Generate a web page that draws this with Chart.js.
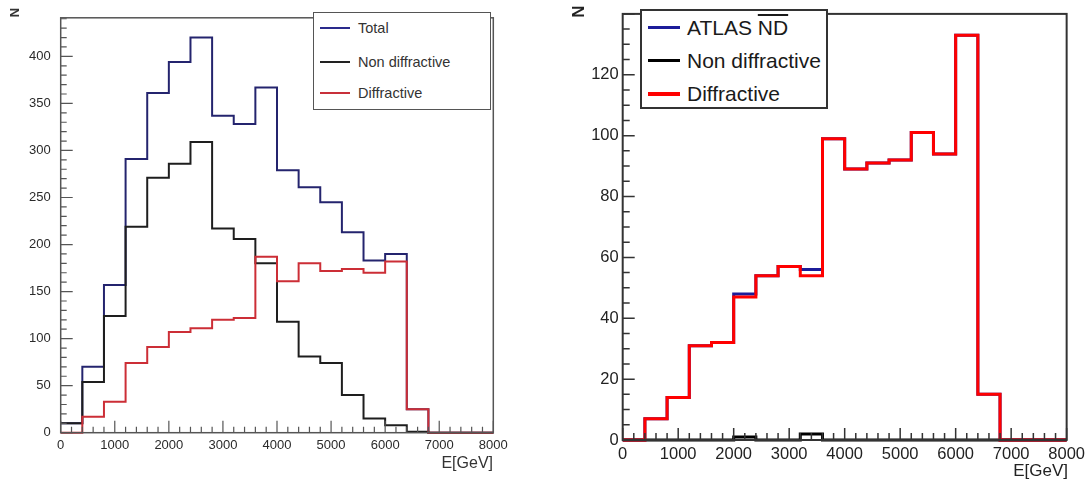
<!DOCTYPE html>
<html>
<head>
<meta charset="utf-8">
<script src="https://cdn.jsdelivr.net/npm/chart.js@4/dist/chart.umd.min.js"></script>
<style>
  body { margin: 0; background: #fff; }
  #wrap { position: relative; width: 1090px; height: 484px; overflow: hidden; font-family: 'Liberation Sans', Arial, sans-serif; }
  canvas { position: absolute; top: 0; }
  .lbl { position: absolute; white-space: nowrap; }
  .legend { position: absolute; box-sizing: border-box; background: #fff; }
  .legend .sample { position: absolute; }
  .legend .txt { position: absolute; white-space: nowrap; }
</style>
</head>
<body>
<div id="wrap">
  <canvas id="chart-left" width="545" height="484" style="left:0"></canvas>
  <canvas id="chart-right" width="530" height="484" style="left:560px"></canvas>

  <!-- axis titles -->
  <div class="lbl" style="left:10px; top:6px; font-size:13px; font-weight:bold; color:#333; transform:rotate(-90deg); line-height:13px;">N</div>
  <div class="lbl" style="right:597px; top:455px; font-size:16px; color:#333; line-height:16px;">E[GeV]</div>
  <div class="lbl" style="left:572px; top:3px; font-size:17px; font-weight:bold; color:#222; transform:rotate(-90deg); line-height:17px;">N</div>
  <div class="lbl" style="right:22px; top:462px; font-size:17px; color:#222; line-height:17px;">E[GeV]</div>

  <!-- legends -->
  <div class="legend" style="left:313px; top:12px; width:178px; height:98px; border:1.5px solid #555;">
    <div class="sample" style="left:6px; top:14px; width:30px; height:2px; background:#2a2a8c;"></div>
    <div class="txt" style="left:44px; top:7px; font-size:14.5px; line-height:16px; color:#333;">Total</div>
    <div class="sample" style="left:6px; top:48px; width:30px; height:2px; background:#222;"></div>
    <div class="txt" style="left:44px; top:41px; font-size:14.5px; line-height:16px; color:#333;">Non diffractive</div>
    <div class="sample" style="left:6px; top:79px; width:30px; height:2px; background:#c8303a;"></div>
    <div class="txt" style="left:44px; top:72px; font-size:14.5px; line-height:16px; color:#333;">Diffractive</div>
  </div>
  <div class="legend" style="left:640px; top:9px; width:188px; height:100px; border:2px solid #333;">
    <div class="sample" style="left:6px; top:15px; width:32px; height:3px; background:#1c1c9a;"></div>
    <div class="txt" style="left:45px; top:5px; font-size:21px; line-height:23px; color:#1a1a1a;">ATLAS <span style="text-decoration:overline;">ND</span></div>
    <div class="sample" style="left:6px; top:48px; width:32px; height:3px; background:#000;"></div>
    <div class="txt" style="left:45px; top:38px; font-size:21px; line-height:23px; color:#1a1a1a;">Non diffractive</div>
    <div class="sample" style="left:6px; top:81px; width:32px; height:4px; background:#ff0000;"></div>
    <div class="txt" style="left:45px; top:71px; font-size:21px; line-height:23px; color:#1a1a1a;">Diffractive</div>
  </div>
</div>

<script>
// bin edges in GeV (400 GeV bins, last entry closes the histogram)
var binLow = [0, 400, 800, 1200, 1600, 2000, 2400, 2800, 3200, 3600, 4000,
              4400, 4800, 5200, 5600, 6000, 6400, 6800, 7200, 7600, 8000];
var xTicks = [0, 1000, 2000, 3000, 4000, 5000, 6000, 7000, 8000];

// left panel
var totalLeft   = [10, 70, 157, 291, 361, 394, 420, 337, 328, 367, 279, 261, 245, 213, 183, 190, 25, 0, 0, 0];
var nonDiffLeft = [10, 54, 124, 219, 271, 286, 309, 217, 206, 180, 118, 81, 74, 40, 15, 8, 1, 0, 0, 0];
var diffLeft    = [0, 17, 33, 74, 91, 107, 111, 120, 122, 187, 161, 180, 172, 174, 170, 182, 25, 0, 0, 0];
var yTicksLeft  = [0, 50, 100, 150, 200, 250, 300, 350, 400];

// right panel
var atlasNDRight  = [0, 7, 14, 31, 32, 48, 54, 57, 56, 99, 89, 91, 92, 101, 94, 133, 15, 0, 0, 0];
var nonDiffRight  = [0, 0, 0, 0, 0, 1, 0, 0, 2, 0, 0, 0, 0, 0, 0, 0, 0, 0, 0, 0];
var diffRight     = [0, 7, 14, 31, 32, 47, 54, 57, 54, 99, 89, 91, 92, 101, 94, 133, 15, 0, 0, 0];
var yTicksRight   = [0, 20, 40, 60, 80, 100, 120];

function stepPoints(values) {
    var pts = values.map(function (v, i) { return { x: binLow[i], y: v }; });
    pts.push({ x: binLow[values.length], y: values[values.length - 1] });
    return pts;
}

// ROOT style frame with inward ticks on the bottom and left axes
var rootAxes = {
    id: 'rootAxes',
    afterDatasetsDraw: function (chart, args, o) {
        var ctx = chart.ctx, a = chart.chartArea, x = chart.scales.x, y = chart.scales.y;
        ctx.save();
        ctx.strokeStyle = o.color;
        ctx.lineWidth = o.tickWidth;
        ctx.beginPath();
        var v, p, len;
        for (v = x.min; v <= x.max + 1e-6; v += o.xMinor) {
            p = x.getPixelForValue(v);
            len = Math.abs(v % o.xMajor) < 1e-6 ? o.majorLen : o.minorLen;
            ctx.moveTo(p, a.bottom);
            ctx.lineTo(p, a.bottom - len);
        }
        for (v = y.min; v <= y.max + 1e-6; v += o.yMinor) {
            p = y.getPixelForValue(v);
            len = Math.abs(v % o.yMajor) < 1e-6 ? o.majorLen : o.minorLen;
            ctx.moveTo(a.left, p);
            ctx.lineTo(a.left + len, p);
        }
        ctx.stroke();
        ctx.lineWidth = o.frameWidth;
        ctx.strokeRect(a.left, a.top, a.right - a.left, a.bottom - a.top);
        ctx.restore();
    }
};

function makeOptions(p) {
    var font = { family: "'Liberation Sans', Arial, sans-serif", size: p.fontSize };
    return {
        responsive: false,
        animation: false,
        devicePixelRatio: 1,
        layout: { padding: { left: 0, top: p.top, right: p.right, bottom: 0 } },
        elements: { point: { radius: 0 }, line: { tension: 0 } },
        plugins: {
            legend: { display: false },
            tooltip: { enabled: false },
            rootAxes: p.axes
        },
        scales: {
            x: {
                type: 'linear', min: 0, max: 8000,
                grid: { drawOnChartArea: false, drawTicks: false },
                border: { display: false },
                afterBuildTicks: function (s) { s.ticks = xTicks.map(function (v) { return { value: v }; }); },
                ticks: { padding: p.xPad, maxRotation: 0, autoSkip: false, color: p.color, font: font,
                         callback: function (v) { return String(v); } },
                afterFit: function (s) { s.height = p.xHeight; }
            },
            y: {
                min: 0, max: p.yMax,
                grid: { drawOnChartArea: false, drawTicks: false },
                border: { display: false },
                afterBuildTicks: function (s) { s.ticks = p.yTicks.map(function (v) { return { value: v }; }); },
                ticks: { padding: p.yPad, color: p.color, font: font,
                         callback: function (v) { return String(v); } },
                afterFit: function (s) { s.width = p.yWidth; }
            }
        }
    };
}

// stepped 'before': horizontal at the bin's value, then vertical at the next edge
new Chart(document.getElementById('chart-left').getContext('2d'), {
    type: 'line',
    data: {
        datasets: [
            { label: 'Diffractive', data: stepPoints(diffLeft), borderColor: '#cc2e36', borderWidth: 2, stepped: 'before', fill: false, order: 0, clip: 6 },
            { label: 'Non diffractive', data: stepPoints(nonDiffLeft), borderColor: '#1e1e1e', borderWidth: 2, stepped: 'before', fill: false, order: 1, clip: 6 },
            { label: 'Total', data: stepPoints(totalLeft), borderColor: '#24246e', borderWidth: 2, stepped: 'before', fill: false, order: 2, clip: 6 }
        ]
    },
    options: makeOptions({
        top: 9.3, right: 51.7, xHeight: 51.3, yWidth: 60.7, yMax: 441, yTicks: yTicksLeft,
        fontSize: 13, color: '#2a2a2a', xPad: 5, yPad: 10,
        axes: { color: '#555', tickWidth: 1.2, frameWidth: 1.5, majorLen: 12, minorLen: 6,
                xMajor: 1000, xMinor: 200, yMajor: 50, yMinor: 10 }
    }),
    plugins: [rootAxes]
});

new Chart(document.getElementById('chart-right').getContext('2d'), {
    type: 'line',
    data: {
        datasets: [
            { label: 'Diffractive', data: stepPoints(diffRight), borderColor: '#ff0000', borderWidth: 3, stepped: 'before', fill: false, order: 0, clip: 6 },
            { label: 'Non diffractive', data: stepPoints(nonDiffRight), borderColor: '#000000', borderWidth: 3, stepped: 'before', fill: false, order: 1, clip: 6 },
            { label: 'ATLAS ND', data: stepPoints(atlasNDRight), borderColor: '#1c1c9a', borderWidth: 3, stepped: 'before', fill: false, order: 2, clip: 6 }
        ]
    },
    options: makeOptions({
        top: 6, right: 22.3, xHeight: 44, yWidth: 62.7, yMax: 140, yTicks: yTicksRight,
        fontSize: 16.5, color: '#222', xPad: 5, yPad: 4,
        axes: { color: '#333', tickWidth: 1.5, frameWidth: 2, majorLen: 12, minorLen: 7,
                xMajor: 1000, xMinor: 200, yMajor: 20, yMinor: 5 }
    }),
    plugins: [rootAxes]
});
</script>
</body>
</html>
